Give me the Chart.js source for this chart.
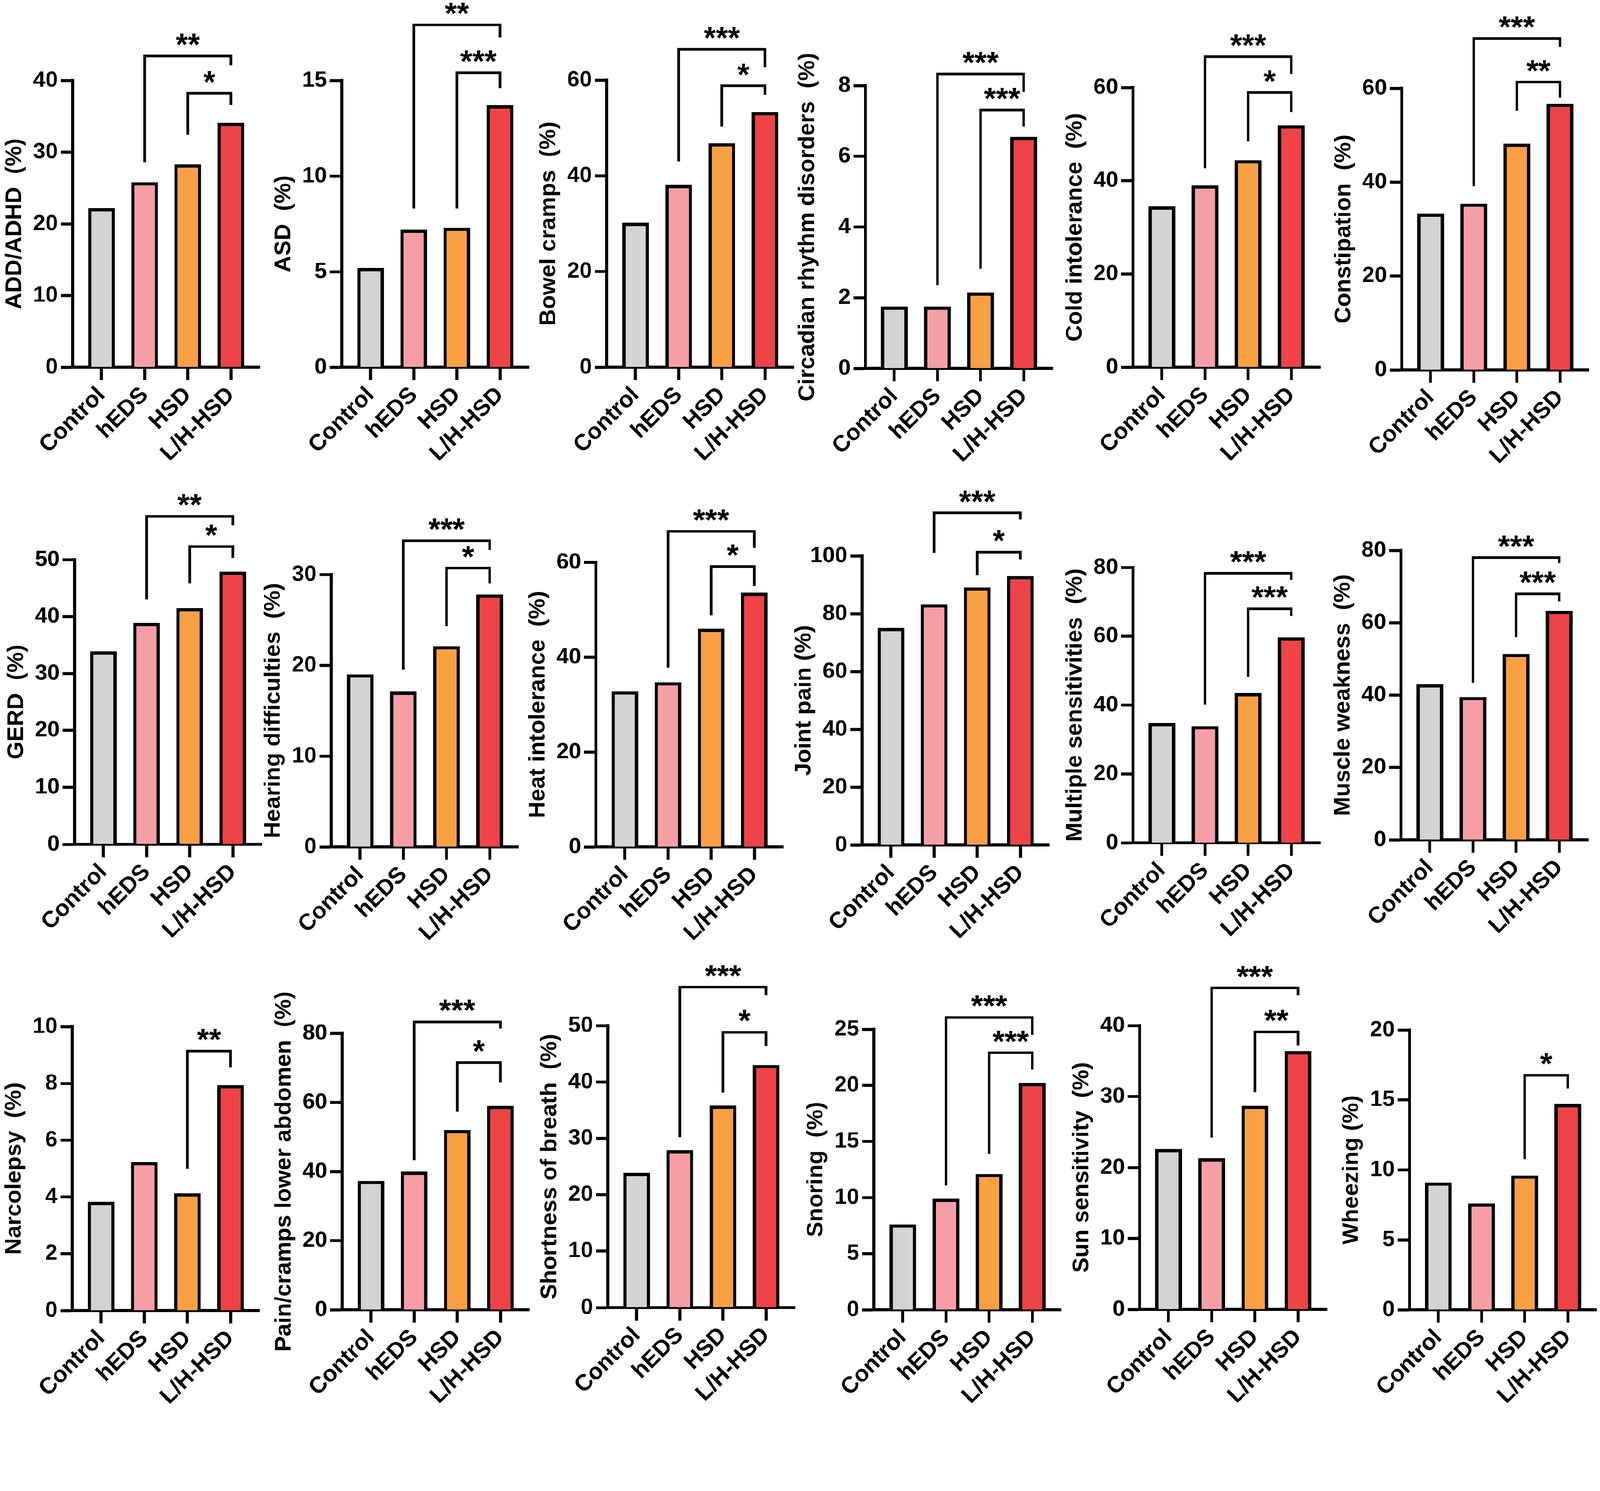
<!DOCTYPE html>
<html>
<head>
<meta charset="utf-8">
<script src="https://cdn.jsdelivr.net/npm/chart.js@4.4.1/dist/chart.umd.min.js"></script>
<style>
  html, body { margin: 0; padding: 0; background: #fff; overflow: hidden; }
  #page { width: 4317px; height: 3817px; position: absolute; left: 0; top: 0; transform-origin: 0 0; overflow: hidden; background: #fff; }
  canvas { position: absolute; }
</style>
</head>
<body>
<div id="page"></div>
<script>
// groups on the x axis
const groups = ['Control', 'hEDS', 'HSD', 'L/H-HSD'];

// one panel per symptom
const symptoms = [
  'ADD/ADHD  (%)', 'ASD  (%)', 'Bowel cramps  (%)', 'Circadian rhythm disorders  (%)',
  'Cold intolerance  (%)', 'Constipation  (%)', 'GERD  (%)', 'Hearing difficulties  (%)',
  'Heat intolerance  (%)', 'Joint pain (%)', 'Multiple sensitivities  (%)', 'Muscle weakness  (%)',
  'Narcolepsy  (%)', 'Pain/cramps lower abdomen  (%)', 'Shortness of breath  (%)', 'Snoring  (%)',
  'Sun sensitivity  (%)', 'Wheezing (%)'
];

const yMax  = [40, 15, 60, 8, 60, 60, 50, 30, 60, 100, 80, 80, 10, 80, 50, 25, 40, 20];
const yStep = [10, 5, 20, 2, 20, 20, 10, 10, 20, 20, 20, 20, 2, 20, 10, 5, 10, 5];

// percentages per group (same order as symptoms)
const pctControl = [22.2, 5.2, 30.2, 1.75, 34.5, 33.3, 33.9, 19.0, 32.8, 75.1, 34.8, 43.0, 3.83, 37.3, 23.9, 7.6, 22.6, 9.1];
const pctHEDS    = [25.8, 7.2, 38.1, 1.75, 39.0, 35.4, 38.9, 17.1, 34.7, 83.3, 33.9, 39.5, 5.23, 40.0, 27.9, 9.9, 21.3, 7.6];
const pctHSD     = [28.3, 7.3, 46.8, 2.15, 44.4, 48.2, 41.5, 22.1, 46.0, 89.1, 43.5, 51.4, 4.13, 52.0, 35.8, 12.1, 28.7, 9.6];
const pctLHHSD   = [34.1, 13.7, 53.3, 6.55, 51.9, 56.7, 47.9, 27.8, 53.6, 93.0, 59.7, 63.3, 7.94, 59.0, 43.0, 20.2, 36.4, 14.7];

// significance brackets: [from group, to group, bar level, left leg end, right leg end, label] in % units
const brackets = [
  [[1, 3, 43.4, 28.6, 42.1, '**'], [2, 3, 38.2, 32.4, 36.6, '*']],
  [[1, 3, 17.9, 8.3, 17.25, '**'], [2, 3, 15.4, 8.3, 14.6, '***']],
  [[1, 3, 66.4, 43.0, 62.7, '***'], [2, 3, 58.8, 50.3, 56.9, '*']],
  [[1, 3, 8.33, 2.36, 7.82, '***'], [2, 3, 7.31, 2.82, 6.84, '***']],
  [[1, 3, 66.6, 42.7, 62.9, '***'], [2, 3, 58.9, 48.4, 54.7, '*']],
  [[1, 3, 70.6, 39.1, 68.8, '***'], [2, 3, 61.3, 55.2, 58.0, '**']],
  [[1, 3, 57.6, 43.0, 56.0, '**'], [2, 3, 52.3, 45.8, 50.3, '*']],
  [[1, 3, 33.7, 19.5, 32.7, '***'], [2, 3, 30.7, 24.3, 29.0, '*']],
  [[1, 3, 66.5, 37.8, 63.0, '***'], [2, 3, 59.1, 48.8, 55.0, '*']],
  [[1, 3, 114.9, 101.1, 112.6, '***'], [2, 3, 101.3, 93.4, 98.8, '*']],
  [[1, 3, 78.3, 40.2, 76.4, '***'], [2, 3, 68.0, 48.2, 65.9, '***']],
  [[1, 3, 78.0, 43.4, 76.5, '***'], [2, 3, 68.0, 56.0, 65.9, '***']],
  [[2, 3, 9.14, 5.0, 8.57, '**']],
  [[1, 3, 83.3, 43.3, 81.4, '***'], [2, 3, 71.5, 57.3, 65.8, '*']],
  [[1, 3, 56.8, 30.2, 55.4, '***'], [2, 3, 48.8, 38.1, 46.4, '*']],
  [[1, 3, 26.05, 11.07, 24.5, '***'], [2, 3, 22.9, 13.9, 21.4, '***']],
  [[1, 3, 45.3, 24.2, 44.3, '***'], [2, 3, 39.1, 30.6, 37.2, '**']],
  [[2, 3, 16.76, 10.77, 15.83, '*']]
];

// ---- layout (page pixels) ----
const axisLeft   = [196, 922, 1637, 2335, 3057, 3782, 201, 894, 1608, 2326, 3057, 3780, 195, 923, 1640, 2358, 3075, 3803];
const axisTop    = [217, 217, 216, 231, 236, 238, 1510, 1550, 1517, 1500, 1531, 1485, 2770, 2788, 2767, 2777, 2767, 2779];
const axisBottom = [991, 991, 991, 994, 991, 998, 2278, 2285, 2285, 2280, 2274, 2266, 3536, 3534, 3528, 3534, 3533, 3534];
const PLOT_W = 505, YW = 195, XH = 320, PT = 260, PR = 10;

const groupColors = ['#d3d3d3', '#f59fa5', '#f8a043', '#ee4347'];
const FONT = "'Liberation Sans', Arial, sans-serif";
const series = [pctControl, pctHEDS, pctHSD, pctLHHSD];

// fit the 4317x3817 figure into whatever viewport we actually get
const page = document.getElementById('page');
const fit = Math.min(1, window.innerWidth / 4317, window.innerHeight / 3817);
page.style.transform = 'scale(' + fit + ')';

Chart.defaults.color = '#000';

function bracketPlugin(list) {
  return {
    id: 'brackets',
    afterDraw(chart) {
      const ctx = chart.ctx, xs = chart.scales.x, ys = chart.scales.y;
      ctx.save();
      ctx.strokeStyle = '#000';
      ctx.fillStyle = '#000';
      ctx.lineWidth = 7;
      ctx.lineJoin = 'miter';
      ctx.font = 'bold 84px ' + FONT;
      ctx.textAlign = 'center';
      ctx.textBaseline = 'alphabetic';
      list.forEach(([a, b, lvl, lEnd, rEnd, label]) => {
        const x1 = xs.getPixelForValue(a), x2 = xs.getPixelForValue(b);
        const yl = ys.getPixelForValue(lvl);
        ctx.beginPath();
        ctx.moveTo(x1, ys.getPixelForValue(lEnd));
        ctx.lineTo(x1, yl);
        ctx.lineTo(x2, yl);
        ctx.lineTo(x2, ys.getPixelForValue(rEnd));
        ctx.stroke();
        ctx.fillText(label, (x1 + x2) / 2, yl - 2);
      });
      ctx.restore();
    }
  };
}

symptoms.forEach((title, i) => {
  const cv = document.createElement('canvas');
  const h = PT + (axisBottom[i] - axisTop[i]) + XH;
  cv.width = YW + PLOT_W + PR;
  cv.height = h;
  cv.style.left = (axisLeft[i] - YW) + 'px';
  cv.style.top = (axisTop[i] - PT) + 'px';
  page.appendChild(cv);

  new Chart(cv, {
    type: 'bar',
    data: {
      datasets: [{
        data: groups.map((g, k) => ({ x: k, y: series[k][i] })),
        backgroundColor: groupColors,
        borderColor: '#000',
        borderWidth: 9,
        barPercentage: 0.62,
        categoryPercentage: 1
      }]
    },
    options: {
      responsive: false,
      animation: false,
      devicePixelRatio: 1,
      layout: { padding: { top: PT, right: PR, left: 0, bottom: 0 } },
      plugins: { legend: { display: false }, tooltip: { enabled: false } },
      scales: {
        x: {
          type: 'linear',
          min: -0.67,
          max: 3.67,
          offset: false,
          z: 1,
          afterBuildTicks: s => { s.ticks = groups.map((g, k) => ({ value: k })); },
          afterFit: s => { s.height = XH; },
          ticks: {
            autoSkip: false,
            minRotation: 45,
            maxRotation: 45,
            padding: 4,
            color: '#000',
            font: { family: FONT, weight: 'bold', size: 62 },
            callback: v => groups[v]
          },
          grid: { drawOnChartArea: false, tickLength: 35, tickWidth: 8, tickColor: '#000', offset: false },
          border: { color: '#000', width: 8 }
        },
        y: {
          min: 0,
          max: yMax[i],
          afterFit: s => { s.width = YW; },
          ticks: {
            stepSize: yStep[i],
            padding: 8,
            color: '#000',
            font: { family: FONT, weight: 'bold', size: 60 }
          },
          grid: { drawOnChartArea: false, tickLength: 32, tickWidth: 8, tickColor: '#000' },
          border: { color: '#000', width: 8 },
          title: {
            display: true,
            text: title,
            color: '#000',
            padding: { top: 2, bottom: 0 },
            font: { family: FONT, weight: 'bold', size: 62 }
          }
        }
      }
    },
    plugins: [bracketPlugin(brackets[i])]
  });
});
</script>
</body>
</html>
